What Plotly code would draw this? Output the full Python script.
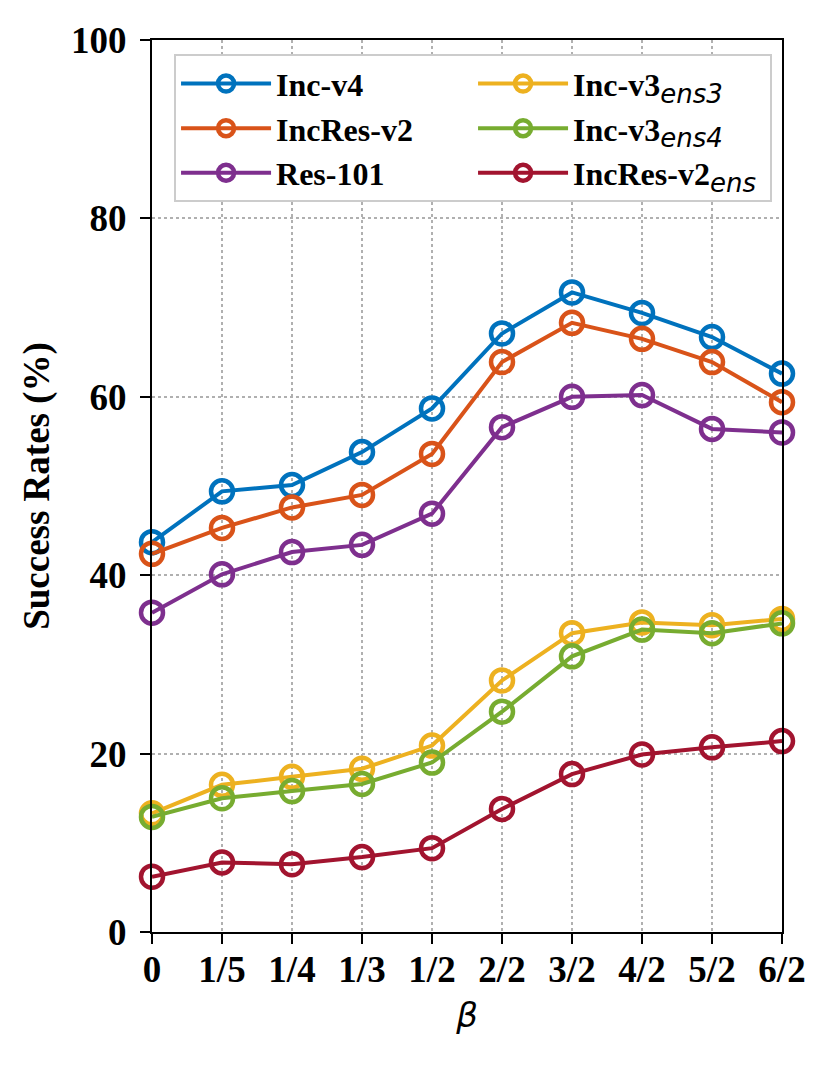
import plotly.graph_objects as go

# beta values on the x axis
beta_labels = ['0', '1/5', '1/4', '1/3', '1/2', '2/2', '3/2', '4/2', '5/2', '6/2']

# success rates (%) for every model
inc_v4 = [43.7, 49.4, 50.1, 53.8, 58.7, 67.1, 71.7, 69.4, 66.7, 62.6]
incres_v2 = [42.4, 45.3, 47.6, 49.0, 53.6, 63.9, 68.3, 66.5, 63.9, 59.4]
res_101 = [35.8, 40.1, 42.6, 43.4, 46.9, 56.6, 60.0, 60.2, 56.4, 56.0]
inc_v3_ens3 = [13.3, 16.5, 17.4, 18.3, 20.9, 28.2, 33.5, 34.7, 34.4, 35.1]
inc_v3_ens4 = [12.9, 15.0, 15.8, 16.6, 19.0, 24.7, 30.9, 33.9, 33.5, 34.6]
incres_v2_ens = [6.2, 7.8, 7.6, 8.4, 9.4, 13.8, 17.7, 19.9, 20.7, 21.4]

# subscripts are drawn in an italic sans font, like matplotlib mathtext
sub = '<sub><i><span style="font-family:DejaVu Sans;font-weight:normal;font-size:26px">%s</span></i></sub>'
series = [
    ('Inc-v4', inc_v4, '#0072BD', 1),
    ('IncRes-v2', incres_v2, '#D95319', 3),
    ('Res-101', res_101, '#7E2F8E', 5),
    ('Inc-v3' + sub % 'ens3', inc_v3_ens3, '#EDB120', 2),
    ('Inc-v3' + sub % 'ens4', inc_v3_ens4, '#77AC30', 4),
    ('IncRes-v2' + sub % 'ens', incres_v2_ens, '#A2142F', 6),
]

x_pos = list(range(len(beta_labels)))

fig = go.Figure()
for name, vals, color, rank in series:
    fig.add_trace(go.Scatter(
        x=x_pos, y=vals, name=name, mode='lines+markers',
        line=dict(color=color, width=4),
        marker=dict(symbol='circle-open', size=22, color=color, line=dict(width=4.5, color=color)),
        cliponaxis=False, legendrank=rank,
    ))

axis_font = dict(family='Liberation Serif', size=37, color='black', weight='bold')

# the page has an 8px body margin, so the margins are shifted by that much
fig.update_layout(
    width=830, height=1067,
    margin=dict(l=144, r=56, t=28, b=143),
    paper_bgcolor='white', plot_bgcolor='white',
    font=dict(family='Liberation Serif', color='black', weight='bold'),
    showlegend=True,
    legend=dict(
        orientation='h', x=0.035, y=0.984, xanchor='left', yanchor='top',
        itemwidth=90, entrywidth=192, entrywidthmode='pixels',
        font=dict(family='Liberation Serif', size=32, color='black', weight='bold'),
        bgcolor='white', bordercolor='#cccccc', borderwidth=2,
        tracegroupgap=0,
    ),
)

fig.update_xaxes(
    range=[0, 9], tickvals=x_pos, ticktext=beta_labels,
    tickfont=axis_font, ticks='outside', ticklen=10, tickwidth=2, tickcolor='black',
    ticklabelstandoff=-6,
    showline=True, linecolor='black', linewidth=2, mirror=True,
    showgrid=True, gridcolor='#b0b0b0', gridwidth=2, griddash='dot', zeroline=False,
    title=dict(text='<i>β</i>', font=dict(family='DejaVu Sans', size=34, color='black', weight='normal'), standoff=14),
)
fig.update_yaxes(
    range=[0, 100], tickvals=[0, 20, 40, 60, 80, 100],
    tickfont=axis_font, ticks='outside', ticklen=10, tickwidth=2, tickcolor='black',
    ticklabelstandoff=6,
    showline=True, linecolor='black', linewidth=2, mirror=True,
    showgrid=True, gridcolor='#b0b0b0', gridwidth=2, griddash='dot', zeroline=False,
    title=dict(text='Success Rates (%)', font=dict(family='Liberation Serif', size=37, color='black', weight='bold'), standoff=10),
)

fig.write_html("out.html")
